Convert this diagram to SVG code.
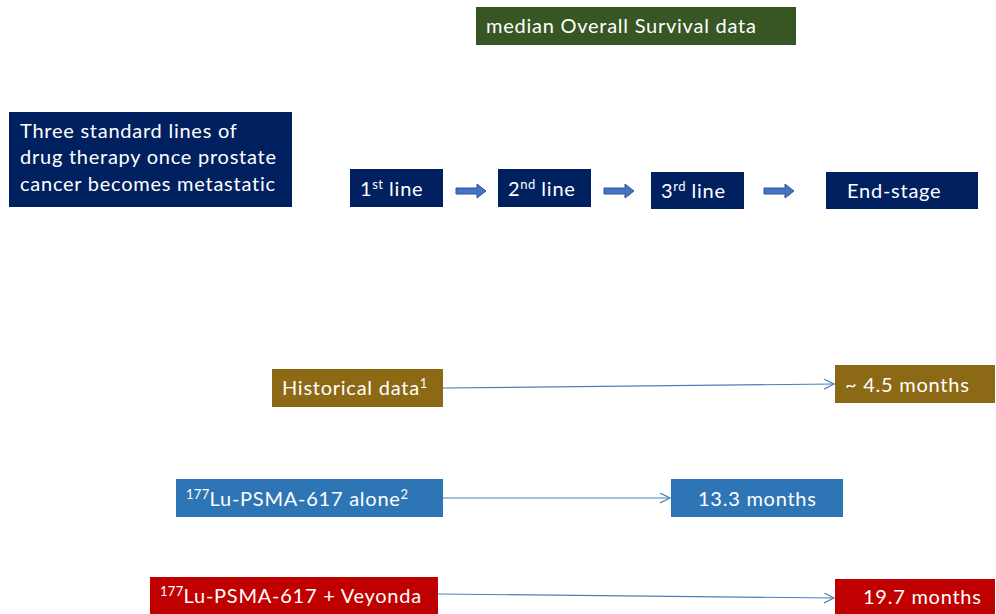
<svg xmlns="http://www.w3.org/2000/svg" width="996" height="614" viewBox="0 0 996 614">
<style>
text{font-family:Lato,"Open Sans","Liberation Sans",sans-serif;font-size:20px;letter-spacing:0.75px;fill:#ffffff}
.sup{font-size:13px;letter-spacing:0.3px}
.navy{fill:#002060}
.blk{fill:#4472C4;stroke:#2F528F;stroke-width:1}
.con{stroke:#4a7ebb;stroke-width:1.2;fill:none}
</style>
<defs>
<marker id="ah" markerWidth="12" markerHeight="12" refX="10" refY="5" orient="auto" markerUnits="userSpaceOnUse">
<path d="M0,0 L10,5 L0,10" fill="none" stroke="#4a7ebb" stroke-width="1.2"/>
</marker>
</defs>
<rect width="996" height="614" fill="#ffffff"/>
<g id="title"><rect x="476" y="7" width="320" height="38" fill="#375623"/><text x="486" y="33">median Overall Survival data</text></g>
<g id="intro"><rect class="navy" x="9" y="112" width="283" height="95"/>
<text x="20" y="138">Three standard lines of</text>
<text x="20" y="164">drug therapy once prostate</text>
<text x="20" y="191">cancer becomes metastatic</text></g>
<g id="line1"><rect class="navy" x="350" y="169" width="93" height="38"/><text x="360" y="196">1<tspan class="sup" dy="-7">st</tspan><tspan dy="7"> line</tspan></text></g>
<g id="line2"><rect class="navy" x="498" y="169" width="93" height="38"/><text x="508" y="196">2<tspan class="sup" dy="-7">nd</tspan><tspan dy="7"> line</tspan></text></g>
<g id="line3"><rect class="navy" x="651" y="172" width="93" height="37"/><text x="661" y="198">3<tspan class="sup" dy="-7">rd</tspan><tspan dy="7"> line</tspan></text></g>
<g id="endstage"><rect class="navy" x="826" y="172" width="152" height="37"/><text x="847" y="198">End-stage</text></g>
<g id="hist"><rect x="272" y="369" width="171" height="38" fill="#8C6914"/><text x="282" y="395">Historical data<tspan class="sup" dy="-7">1</tspan></text></g>
<g id="hist-os"><rect x="835" y="365" width="160" height="38" fill="#8C6914"/><text x="845" y="392">~ 4.5 months</text></g>
<g id="lu-alone"><rect x="176" y="479" width="267" height="38" fill="#2E75B6"/><text x="186" y="506"><tspan class="sup" dy="-7">177</tspan><tspan dy="7">Lu-PSMA-617 alone</tspan><tspan class="sup" dy="-7">2</tspan></text></g>
<g id="lu-alone-os"><rect x="671" y="479" width="172" height="38" fill="#2E75B6"/><text x="698" y="506">13.3 months</text></g>
<g id="lu-vey"><rect x="150" y="577" width="288" height="40" fill="#C00000"/><text x="160" y="603"><tspan class="sup" dy="-7">177</tspan><tspan dy="7">Lu-PSMA-617 + Veyonda</tspan></text></g>
<g id="lu-vey-os"><rect x="835" y="579" width="160" height="38" fill="#C00000"/><text x="863" y="604">19.7 months</text></g>
<g id="connectors">
<path class="blk" d="M456,188 H477 V184 L486,191 L477,198 V194 H456 Z"/>
<path class="blk" d="M604,188 H625 V184 L634,191 L625,198 V194 H604 Z"/>
<path class="blk" d="M764,188 H785 V184 L794,191 L785,198 V194 H764 Z"/>
<line class="con" x1="443" y1="388" x2="834" y2="384" marker-end="url(#ah)"/>
<line class="con" x1="443" y1="498" x2="670" y2="498" marker-end="url(#ah)"/>
<line class="con" x1="438" y1="594" x2="834" y2="598" marker-end="url(#ah)"/>
</g>
</svg>
